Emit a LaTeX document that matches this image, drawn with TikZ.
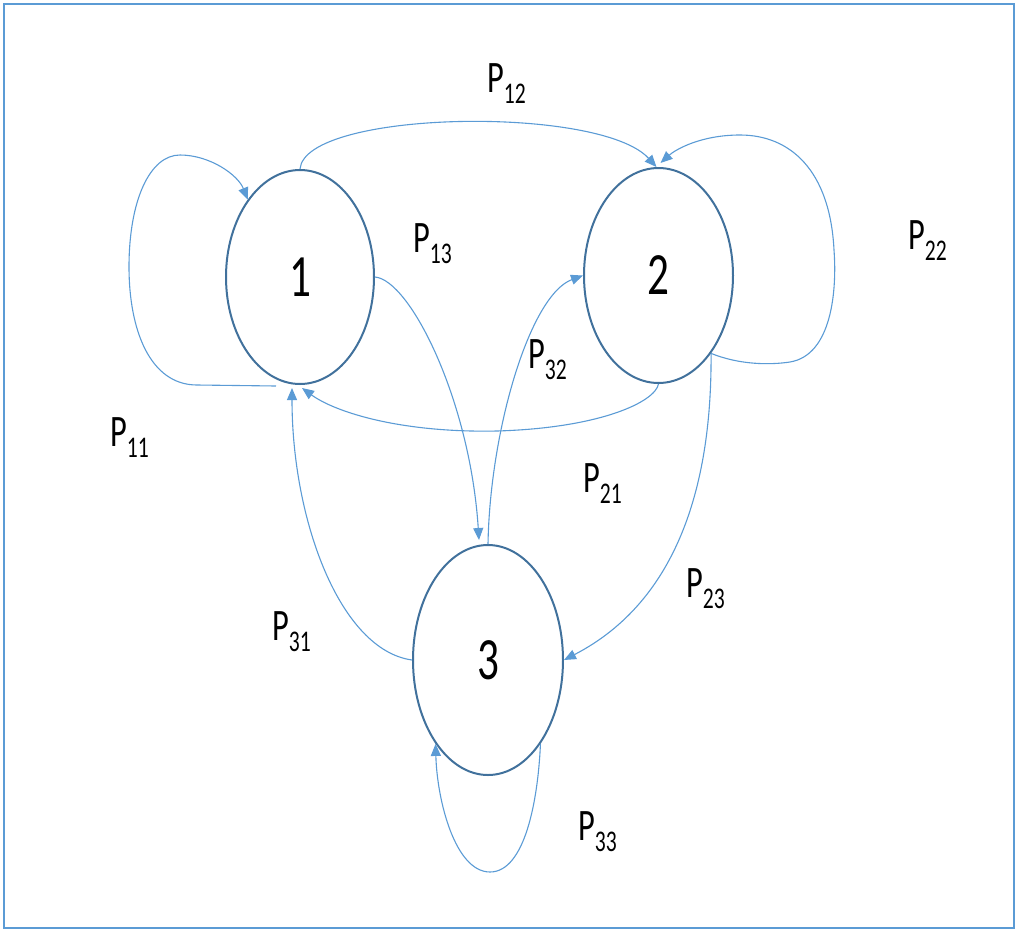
\documentclass[tikz,border=0pt]{standalone}
\usepackage{fontspec}
\newfontfamily\lblfont[FakeStretch=0.72]{Carlito}
\usetikzlibrary{arrows.meta,shapes.geometric}
\definecolor{edgeblue}{HTML}{5B9BD5}
\definecolor{nodeblue}{HTML}{41719C}
\newcommand{\Plab}[1]{P\raisebox{-11pt}{\fontsize{30}{30}\selectfont #1}}
\tikzset{
  state/.style={ellipse, draw=nodeblue, line width=2pt, inner sep=0pt,
    font=\lblfont\fontsize{60}{60}\selectfont},
  edge/.style={draw=edgeblue, line width=1.1pt, -{Triangle[length=12pt,width=10pt]}},
  lbl/.style={font=\lblfont\fontsize{45}{45}\selectfont, inner sep=0pt, anchor=base west},
}
\begin{document}
\begin{tikzpicture}[x=1pt,y=-1pt]
\useasboundingbox (0,0) rectangle (1018,930);
\draw[edgeblue, line width=2pt] (4,4) rectangle (1014,928);

\node[state, minimum width=148pt, minimum height=214pt] (n1) at (300,277) {1};
\node[state, minimum width=149pt, minimum height=215pt] (n2) at (658.5,275.5) {2};
\node[state, minimum width=150pt, minimum height=230pt] (n3) at (488,660) {3};

% P11 self loop
\coordinate (s11) at ([xshift=-24pt,yshift=-1pt]n1.south);
\draw[edge] (s11) -- (197,385) .. controls (150,385) and (129,330) .. (129,267)
  .. controls (129,200) and (150,155) .. (180,155)
  .. controls (210,155) and (238,175) .. (n1.124);
% P12
\draw[edge] (n1.north) .. controls (305,110) and (600,105) .. ([xshift=-2pt]n2.north);
% P22 self loop
\coordinate (e22) at ([xshift=2pt,yshift=4pt]n2.north);
\draw[edge] (n2.-56) .. controls (740,365) and (770,365) .. (790,362)
  .. controls (832,355) and (837,290) .. (834,250)
  .. controls (830,170) and (790,135) .. (740,135)
  .. controls (700,135) and (675,150) .. (e22);
% P13
\coordinate (e13) at ([xshift=-9pt,yshift=4pt]n3.north);
\draw[edge] (n1.east) .. controls (410,280) and (470,400) .. (e13);
% P32
\draw[edge] (n3.north) .. controls (490,430) and (530,295) .. (n2.west);
% P21
\coordinate (e21) at ([xshift=2pt,yshift=-3pt]n1.south);
\draw[edge] (n2.south) .. controls (655,402) and (600,428) .. (497,431)
  .. controls (400,433) and (335,412) .. (e21);
% P31
\coordinate (e31) at ([xshift=-8pt,yshift=-3pt]n1.south);
\draw[edge] (n3.west) .. controls (340,650) and (292,520) .. (e31);
% P23
\draw[edge] (n2.-56) .. controls (712,480) and (680,600) .. (n3.east);
% P33 self loop
\draw[edge] (n3.-58) .. controls (538,800) and (525,872) .. (490,872)
  .. controls (455,872) and (437,800) .. (n3.-122);

% labels
\node[lbl] (l12) at (487,92) {\Plab{12}};
\node[lbl] (l13) at (413,252) {\Plab{13}};
\node[lbl] (l22) at (908,249) {\Plab{22}};
\node[lbl] (l11) at (110,446) {\Plab{11}};
\node[lbl] (l32) at (528,368) {\Plab{32}};
\node[lbl] (l21) at (583,492) {\Plab{21}};
\node[lbl] (l23) at (686,597) {\Plab{23}};
\node[lbl] (l31) at (272,640) {\Plab{31}};
\node[lbl] (l33) at (578,840) {\Plab{33}};
\end{tikzpicture}
\end{document}
